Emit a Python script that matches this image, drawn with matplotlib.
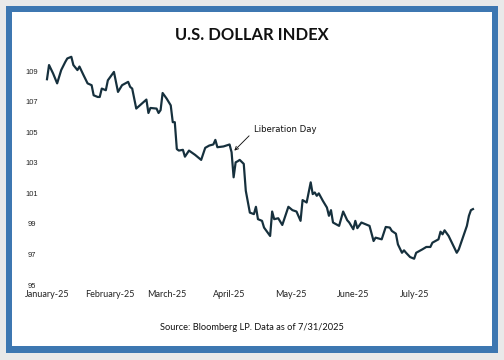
import matplotlib.pyplot as plt
from matplotlib.patches import Rectangle
import pandas as pd

# U.S. Dollar Index
dates = [
    '2025-01-01', '2025-01-02', '2025-01-04', '2025-01-06', '2025-01-08', '2025-01-10',
    '2025-01-11', '2025-01-13', '2025-01-14', '2025-01-16', '2025-01-17', '2025-01-19',
    '2025-01-21', '2025-01-23', '2025-01-24', '2025-01-26', '2025-01-27', '2025-01-28',
    '2025-01-30', '2025-01-31', '2025-02-03', '2025-02-05', '2025-02-07', '2025-02-10',
    '2025-02-11', '2025-02-12', '2025-02-14', '2025-02-19', '2025-02-20', '2025-02-21',
    '2025-02-24', '2025-02-25', '2025-02-26', '2025-02-27', '2025-03-01', '2025-03-03',
    '2025-03-04', '2025-03-05', '2025-03-06', '2025-03-07', '2025-03-09', '2025-03-10',
    '2025-03-12', '2025-03-15', '2025-03-18', '2025-03-20', '2025-03-22', '2025-03-24',
    '2025-03-25', '2025-03-26', '2025-03-29', '2025-04-01', '2025-04-02', '2025-04-03',
    '2025-04-04', '2025-04-05', '2025-04-06', '2025-04-08', '2025-04-09', '2025-04-11',
    '2025-04-13', '2025-04-14', '2025-04-15', '2025-04-17', '2025-04-18', '2025-04-21',
    '2025-04-22', '2025-04-23', '2025-04-25', '2025-04-27', '2025-04-30', '2025-05-02',
    '2025-05-04', '2025-05-06', '2025-05-07', '2025-05-09', '2025-05-11', '2025-05-12',
    '2025-05-13', '2025-05-14', '2025-05-15', '2025-05-17', '2025-05-19', '2025-05-20',
    '2025-05-21', '2025-05-22', '2025-05-25', '2025-05-27', '2025-05-29', '2025-05-30',
    '2025-06-01', '2025-06-02', '2025-06-03', '2025-06-05', '2025-06-07', '2025-06-09',
    '2025-06-11', '2025-06-12', '2025-06-15', '2025-06-17', '2025-06-19', '2025-06-20',
    '2025-06-22', '2025-06-23', '2025-06-25', '2025-06-26', '2025-06-27', '2025-06-29',
    '2025-07-01', '2025-07-02', '2025-07-05', '2025-07-07', '2025-07-09', '2025-07-10',
    '2025-07-13', '2025-07-14', '2025-07-15', '2025-07-16', '2025-07-18', '2025-07-20',
    '2025-07-22', '2025-07-23', '2025-07-25', '2025-07-27', '2025-07-28', '2025-07-29',
    '2025-07-30',
]
values = [
    108.47, 109.40, 108.85, 108.20, 109.07, 109.60,
    109.83, 109.94, 109.40, 109.07, 109.30, 108.74,
    108.20, 108.08, 107.42, 107.31, 107.31, 107.86,
    107.75, 108.40, 108.95, 107.64, 108.08, 108.30,
    107.97, 107.86, 106.55, 107.14, 106.26, 106.59,
    106.55, 106.26, 106.45, 107.57, 107.20, 106.76,
    105.66, 105.66, 103.90, 103.80, 103.85, 103.40,
    103.80, 103.52, 103.19, 103.98, 104.13, 104.20,
    104.50, 104.02, 104.07, 104.20, 103.69, 102.05,
    103.03, 103.10, 103.19, 102.93, 101.17, 99.74,
    99.64, 100.12, 99.31, 99.20, 98.76, 98.21,
    99.81, 99.31, 99.37, 98.93, 100.12, 99.90,
    99.81, 99.20, 100.56, 100.40, 101.72, 100.95,
    101.06, 100.84, 101.00, 100.51, 100.07, 99.53,
    99.90, 99.09, 98.87, 99.81, 99.24, 99.09,
    98.65, 99.20, 98.72, 99.09, 98.98, 98.87,
    97.88, 98.10, 97.99, 98.80, 98.76, 98.54,
    98.36, 97.66, 97.11, 97.27, 97.11, 96.83,
    96.72, 97.11, 97.33, 97.49, 97.49, 97.77,
    97.99, 98.49, 98.32, 98.58, 98.21, 97.66,
    97.11, 97.33, 98.10, 98.87, 99.53, 99.90,
    99.97,
]

month_ticks = ['2025-01-01', '2025-02-01', '2025-03-01', '2025-04-01',
               '2025-05-01', '2025-06-01', '2025-07-01']
month_labels = ['January-25', 'February-25', 'March-25', 'April-25',
                'May-25', 'June-25', 'July-25']
y_ticks = [95, 97, 99, 101, 103, 105, 107, 109]

x = pd.to_datetime(dates)

fig = plt.figure(figsize=(7, 5), dpi=72, facecolor='#e9e9e9')

# blue frame with white card inside (kept behind the axes)
fig.patches.append(Rectangle((6 / 504, 7 / 360), 492 / 504, 347 / 360,
                             transform=fig.transFigure, facecolor='#3d77b1',
                             edgecolor='none', zorder=-2))
fig.patches.append(Rectangle((12 / 504, 14 / 360), 480 / 504, 334 / 360,
                             transform=fig.transFigure, facecolor='white',
                             edgecolor='none', zorder=-1))

ax = fig.add_axes([47 / 504, 75 / 360, 428 / 504, 244.4 / 360])
ax.patch.set_visible(False)

ax.plot(x, values, color='#16303d', linewidth=2.2, clip_on=False)

ax.set_xlim(pd.Timestamp('2025-01-01'), pd.Timestamp('2025-07-31'))
ax.set_ylim(95, 111)

ax.set_xticks(pd.to_datetime(month_ticks))
ax.set_xticklabels(month_labels, fontfamily='Lato', fontsize=9, color='#222222')
ax.set_yticks(y_ticks)
ax.set_yticklabels([str(v) for v in y_ticks], fontfamily='Liberation Sans',
                   fontsize=7.5, color='#222222')
for lab in ax.get_yticklabels():
    lab.set_horizontalalignment('center')
ax.tick_params(axis='y', length=0, pad=15.5)
ax.tick_params(axis='x', length=0, pad=5)

for s in ax.spines.values():
    s.set_visible(False)

ax.annotate('Liberation Day', xy=(pd.Timestamp('2025-04-03'), 103.75),
            xytext=(pd.Timestamp('2025-04-13'), 105.2),
            family=['DejaVu Sans'], fontsize=8.5, color='#111111',
            ha='left', va='center',
            arrowprops=dict(arrowstyle='->', color='#111111', lw=0.9,
                            relpos=(0, 0.3), shrinkA=4, shrinkB=1))

fig.text(0.5, 1 - 35 / 360, 'U.S. DOLLAR INDEX', ha='center', va='center',
         fontfamily='Lato', fontweight='bold', fontsize=16.5, color='#111111')
fig.text(0.5, 1 - 328 / 360, 'Source: Bloomberg LP. Data as of 7/31/2025',
         ha='center', va='center', fontfamily='Lato', fontsize=9.2, color='#111111')

fig.savefig('out.png', dpi=72, facecolor=fig.get_facecolor())
